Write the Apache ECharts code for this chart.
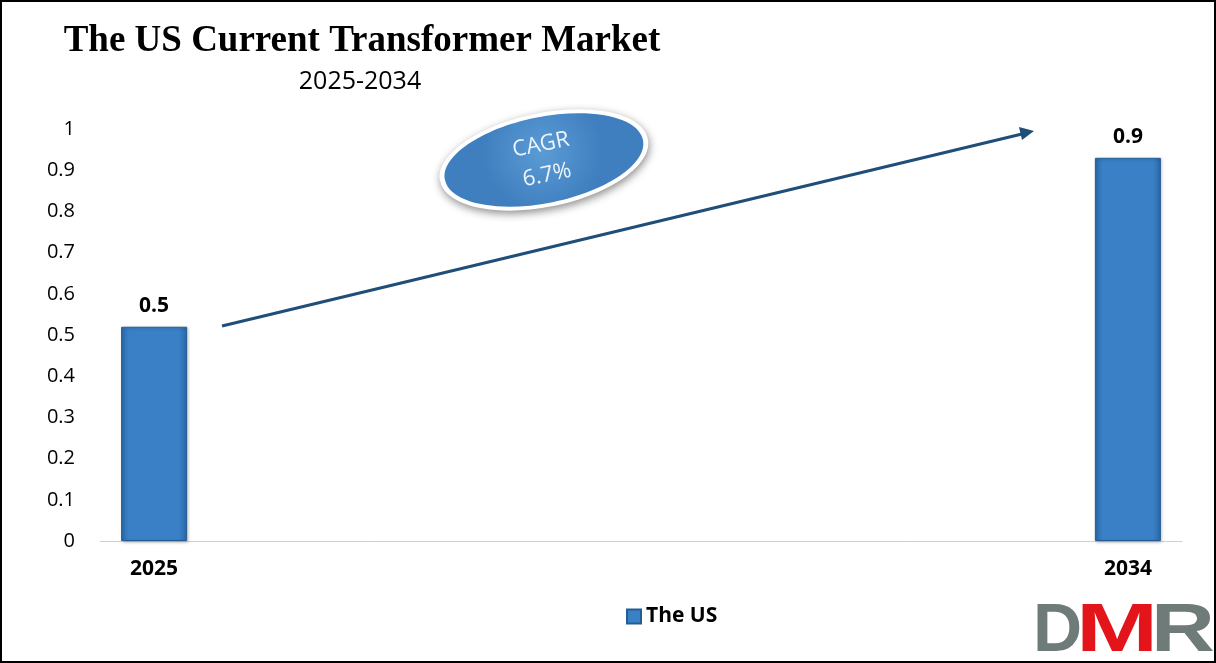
<!DOCTYPE html>
<html>
<head>
<meta charset="utf-8">
<script src="https://cdn.jsdelivr.net/npm/echarts@6/dist/echarts.min.js"></script>
<style>
html,body{margin:0;padding:0;background:#fff;}
#chart{width:1216px;height:663px;}
</style>
</head>
<body>
<div id="chart"></div>
<script>
const categories = ['2025','2026','2027','2028','2029','2030','2031','2032','2033','2034'];
const shownYears = ['2025','2034'];
const seriesName = 'The US';
const values = [0.52, null, null, null, null, null, null, null, null, 0.93];
const yTicks = [0, 0.1, 0.2, 0.3, 0.4, 0.5, 0.6, 0.7, 0.8, 0.9, 1];
const cagrText = 'CAGR\n6.7%';

const chart = echarts.init(document.getElementById('chart'));
const barColor = {
  type: 'linear', x: 0, y: 0, x2: 1, y2: 0,
  colorStops: [
    {offset: 0, color: '#2b6cae'},
    {offset: 0.12, color: '#3a80c6'},
    {offset: 0.88, color: '#3a80c6'},
    {offset: 1, color: '#2a67a6'}
  ]
};
chart.setOption({
  animation: false,
  backgroundColor: '#fff',
  title: [
    {text: 'The US Current Transformer Market', left: 357, top: 18, textAlign: 'center',
     textStyle: {fontFamily: 'Liberation Serif', fontWeight: 'bold', fontSize: 37, color: '#000'}},
    {text: '2025-2034', left: 355, top: 64, textAlign: 'center',
     textStyle: {fontFamily: 'Open Sans', fontWeight: 'normal', fontSize: 25, color: '#000'}}
  ],
  grid: {left: 100, right: 34, top: 129, bottom: 122, containLabel: false},
  legend: {
    left: 621, top: 601, itemWidth: 14, itemHeight: 14, icon: 'rect', itemGap: 10,
    data: [seriesName],
    textStyle: {fontFamily: 'Open Sans', fontWeight: 'bold', fontSize: 21, color: '#000'}
  },
  xAxis: {
    type: 'category', data: categories,
    axisLine: {lineStyle: {color: '#d0d0d0', width: 1}},
    axisTick: {show: false},
    axisLabel: {
      interval: 0, margin: 18,
      formatter: v => shownYears.includes(v) ? v : '',
      fontFamily: 'Open Sans', fontWeight: 'bold', fontSize: 21, color: '#000'
    }
  },
  yAxis: {
    type: 'value', min: yTicks[0], max: yTicks[yTicks.length - 1], interval: 0.1,
    splitLine: {show: false}, axisLine: {show: false}, axisTick: {show: false},
    axisLabel: {margin: 25, fontFamily: 'Open Sans', fontSize: 20, color: '#000',
      formatter: v => String(Math.round(v * 10) / 10)}
  },
  series: [{
    name: seriesName, type: 'bar', data: values, barWidth: 66,
    itemStyle: {color: barColor, borderColor: '#245d96', borderWidth: 1,
      shadowColor: 'rgba(0,0,0,0.25)', shadowBlur: 3, shadowOffsetX: 1, shadowOffsetY: 1},
    label: {show: true, position: 'top', distance: 10,
      formatter: p => p.value == null ? '' : p.value.toFixed(1),
      fontFamily: 'Open Sans', fontWeight: 'bold', fontSize: 21, color: '#000'}
  }],
  graphic: [
    {type: 'rect', shape: {x: 1, y: 1, width: 1214, height: 661}, style: {fill: 'none', stroke: '#000', lineWidth: 2}, z: 100},
    {type: 'line', shape: {x1: 222, y1: 326, x2: 1022, y2: 134}, style: {stroke: '#1f4e79', lineWidth: 3}, z: 10},
    {type: 'polygon', shape: {points: [[1034, 131], [1019, 127], [1022, 140]]}, style: {fill: '#1f4e79'}, z: 10},
    {type: 'group', x: 544, y: 160, rotation: 0.2, z: 20, children: [
      {type: 'ellipse', shape: {cx: 0, cy: 0, rx: 106, ry: 47},
       style: {fill: '#ffffff', shadowColor: 'rgba(0,0,0,0.45)', shadowBlur: 8, shadowOffsetX: 1, shadowOffsetY: 3}},
      {type: 'ellipse', shape: {cx: 0, cy: 0, rx: 101, ry: 43},
       style: {fill: {type: 'radial', x: 0.5, y: 0.4, r: 0.7, colorStops: [{offset: 0, color: '#5b9bd5'}, {offset: 1, color: '#3f7fbf'}]}}},
      {type: 'text', x: 0, y: 0, style: {text: cagrText, fill: '#eef4fb', fontFamily: 'Open Sans', fontSize: 22,
        align: 'center', verticalAlign: 'middle', lineHeight: 31}}
    ]},
    {type: 'text', x: 1033, y: 598, z: 30, style: {text: 'D', fill: '#6e7b79', fontFamily: 'Liberation Sans', fontWeight: 'bold', fontSize: 68}},
    {type: 'text', x: 1076, y: 598, scaleX: 1.45, z: 31, style: {text: 'M', fill: '#e3151b', fontFamily: 'Liberation Sans', fontWeight: 'bold', fontSize: 68}},
    {type: 'text', x: 1151, y: 598, scaleX: 1.3, z: 30, style: {text: 'R', fill: '#6e7b79', fontFamily: 'Liberation Sans', fontWeight: 'bold', fontSize: 68}}
  ]
});
</script>
</body>
</html>
